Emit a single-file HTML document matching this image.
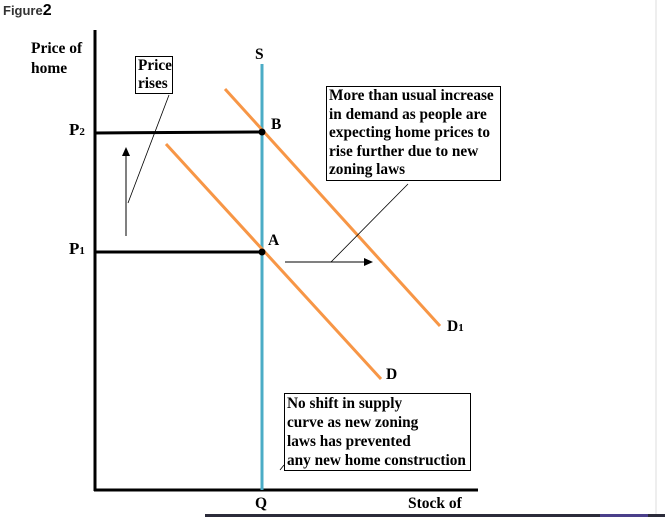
<!DOCTYPE html>
<html><head><style>
body{margin:0;width:665px;height:517px;background:#fff;overflow:hidden;position:relative;font-family:"Liberation Serif",serif;font-weight:bold;color:#000}
.t{position:absolute;font-size:15.5px;line-height:18px;white-space:nowrap}
.box{position:absolute;border:1px solid #000;background:#fff;font-size:15.3px;line-height:18.5px;padding:0 1px 0 2px;white-space:nowrap}
</style></head><body>
<svg width="665" height="517" style="position:absolute;left:0;top:0">
<line x1="95" y1="30" x2="95" y2="491" stroke="#000" stroke-width="3"/>
<line x1="94" y1="490" x2="478" y2="490" stroke="#000" stroke-width="3"/>
<line x1="262" y1="64" x2="262" y2="490" stroke="#4bacc6" stroke-width="3"/>
<line x1="225" y1="89" x2="440" y2="326" stroke="#f79646" stroke-width="3"/>
<line x1="166" y1="144" x2="381" y2="379" stroke="#f79646" stroke-width="3"/>
<line x1="95" y1="133" x2="262" y2="132" stroke="#000" stroke-width="3"/>
<line x1="95" y1="252" x2="262" y2="252" stroke="#000" stroke-width="3"/>
<circle cx="262" cy="132" r="3.5" fill="#000"/>
<circle cx="262" cy="252" r="3.5" fill="#000"/>
<line x1="126" y1="236" x2="126" y2="152" stroke="#000" stroke-width="1"/>
<polygon points="126,147 122,156 130,156" fill="#000"/>
<line x1="285" y1="262" x2="366" y2="262" stroke="#000" stroke-width="1"/>
<polygon points="373,262 364,258 364,266" fill="#000"/>
<line x1="169" y1="95" x2="128" y2="203" stroke="#000" stroke-width="0.8"/>
<line x1="408" y1="184" x2="331" y2="262" stroke="#000" stroke-width="0.8"/>
<line x1="284" y1="465" x2="280" y2="470" stroke="#000" stroke-width="0.8"/>
<rect x="205" y="514" width="460" height="3" fill="#2b2b3a"/>
<rect x="600" y="514" width="48" height="3" fill="#4a3f8a"/>
<line x1="656" y1="0" x2="656" y2="514" stroke="#ddd" stroke-width="1"/>
</svg>
<div class="t" style="left:3px;top:2px;font-family:'Liberation Sans',sans-serif;font-size:13px;color:#333">Figure<span style="font-size:16px;color:#000">2</span></div>
<div class="t" style="left:31px;top:39px;line-height:20px">Price of<br>home</div>
<div class="box" style="left:135px;top:56px;width:34px;line-height:18px;padding:0 0 0 2px">Price<br>rises</div>
<div class="t" style="left:255px;top:46px">S</div>
<div class="t" style="left:69px;top:121px;font-size:17px">P<span style="font-size:11px">2</span></div>
<div class="t" style="left:69px;top:240px;font-size:17px">P<span style="font-size:11px">1</span></div>
<div class="t" style="left:271px;top:116px">B</div>
<div class="t" style="left:268px;top:232px">A</div>
<div class="box" style="left:326px;top:86px;width:170px;line-height:18.6px">More than usual increase<br>in demand as people are<br>expecting home prices to<br>rise further due to new<br>zoning laws</div>
<div class="t" style="left:447px;top:318px">D<span style="font-size:11px">1</span></div>
<div class="t" style="left:386px;top:366px">D</div>
<div class="box" style="left:284px;top:393px;width:182px;line-height:19px">No shift in supply<br>curve as new zoning<br>laws has prevented<br>any new home construction</div>
<div class="t" style="left:255px;top:495px">Q</div>
<div class="t" style="left:408px;top:495px">Stock of</div>
</body></html>
